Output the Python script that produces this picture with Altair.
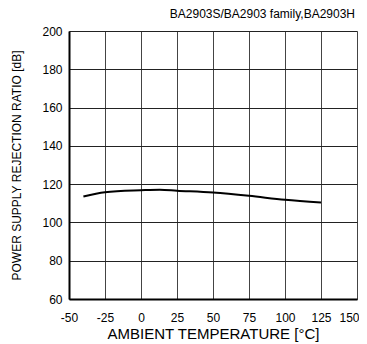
import altair as alt
import pandas as pd

temps = [-40, -25, 0, 13, 25, 50, 75, 100, 125]
psrr = [113.5, 115.8, 116.8, 117.1, 116.6, 115.6, 113.9, 111.8, 110.4]

df = pd.DataFrame({"t": temps, "v": psrr})

FONT = "Liberation Sans"

chart = alt.Chart(df).mark_line(color="black", strokeWidth=2, interpolate="monotone").encode(
    x=alt.X("t:Q", scale=alt.Scale(domain=[-50, 150], nice=False, zero=False),
            axis=alt.Axis(values=list(range(-50, 151, 25)), title="AMBIENT TEMPERATURE [°C]",
                          labelExpr="'' + datum.value",
                          labelOffset={"condition": {"test": "datum.value == 150", "value": -8}, "value": 0},
                          tickSize=0, labelPadding=13, titlePadding=3,
                          labelFontSize=12, titleFontSize=15, titleFontWeight="normal",
                          labelFont=FONT, titleFont=FONT, labelColor="black", titleColor="black",
                          domainColor="black", domainWidth=2, gridColor="#444", gridWidth=1,
                          labelFlush=False)),
    y=alt.Y("v:Q", scale=alt.Scale(domain=[60, 200], nice=False, zero=False),
            axis=alt.Axis(values=list(range(60, 201, 20)), title="POWER SUPPLY REJECTION RATIO [dB]",
                          tickSize=0, labelPadding=7, titlePadding=18,
                          labelFontSize=12, titleFontSize=12, titleFontWeight="normal",
                          labelFont=FONT, titleFont=FONT, labelColor="black", titleColor="black",
                          domainColor="black", domainWidth=2, gridColor="#222", gridWidth=1)),
).properties(
    width=288, height=268,
    padding={"left": 61, "top": 23, "right": 2, "bottom": 45},
    autosize=alt.AutoSizeParams(type="none"),
    title=alt.TitleParams("BA2903S/BA2903 family,BA2903H", anchor="end", fontSize=12,
                          font=FONT, fontWeight="normal", color="black", offset=4, dx=-4),
).configure_view(stroke="#444", strokeWidth=1.5).configure(background="white")

chart.save("out.html", embed_options={"renderer": "svg", "actions": False})
